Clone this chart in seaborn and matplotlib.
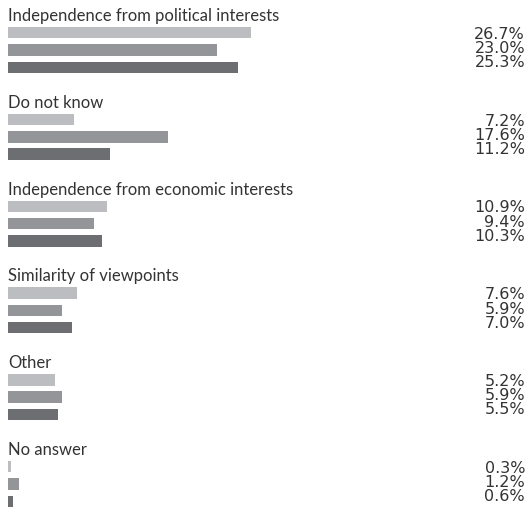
import matplotlib
matplotlib.use("Agg")
import matplotlib.pyplot as plt
import matplotlib.transforms as mtransforms
import seaborn as sns
import pandas as pd

categories = [
    "Independence from political interests",
    "Do not know",
    "Independence from economic interests",
    "Similarity of viewpoints",
    "Other",
    "No answer",
]
series_names = ["Series 1", "Series 2", "Series 3"]
series_1 = [26.7, 7.2, 10.9, 7.6, 5.2, 0.3]
series_2 = [23.0, 17.6, 9.4, 5.9, 5.9, 1.2]
series_3 = [25.3, 11.2, 10.3, 7.0, 5.5, 0.6]
colors = ["#bcbdc0", "#939598", "#6d6e71"]

rows = []
for name, vals in zip(series_names, [series_1, series_2, series_3]):
    for cat, v in zip(categories, vals):
        rows.append({"category": cat, "series": name, "value": v})
df = pd.DataFrame(rows)

sns.set_style("white")
plt.rcParams["font.family"] = ["DejaVu Sans"]

W, H = 529, 513
fig = plt.figure(figsize=(W / 100, H / 100), dpi=100)
ax = fig.add_axes([8 / W, 0, 1 - 8 / W, 1])

sns.barplot(data=df, y="category", x="value", hue="series", order=categories,
            hue_order=series_names, palette=colors, orient="h", width=0.6,
            gap=0.34, ax=ax, legend=False, saturation=1, errorbar=None,
            linewidth=0)

px_per_unit = 86.8
ax.set_xlim(0, (W - 8) / 9.1)
ax.set_ylim((H - 50) / px_per_unit, -50 / px_per_unit)
ax.set_axis_off()

title_font = ["Lato", "DejaVu Sans"]
text_color = "#333333"
for i, cat in enumerate(categories):
    ax.text(0, i - 29 / px_per_unit, cat, ha="left", va="baseline",
            fontsize=12.0, family=title_font, color=text_color)

trans = mtransforms.blended_transform_factory(fig.transFigure, ax.transData)
offsets = [-11.3 / px_per_unit, 3.2 / px_per_unit, 17.2 / px_per_unit]
for j, vals in enumerate([series_1, series_2, series_3]):
    for i, v in enumerate(vals):
        ax.text(525 / W, i + offsets[j], f"{v:.1f}%", transform=trans,
                ha="right", va="baseline", fontsize=11.5, color=text_color)

fig.savefig("out.png", dpi=100)
